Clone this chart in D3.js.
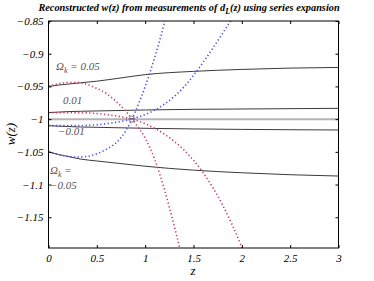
<!DOCTYPE html>
<html><head><meta charset="utf-8">
<script src="https://cdn.jsdelivr.net/npm/d3@7"></script>
<style>
body{margin:0;background:#fff;}
text{font-family:"Liberation Serif","Tinos","Times New Roman","DejaVu Serif",serif;font-style:italic;}
</style></head>
<body><svg id="c" width="374" height="281"></svg>
<script>
const xTicks=[0,0.5,1,1.5,2,2.5,3];
const xTickLabels=["0","0.5","1","1.5","2","2.5","3"];
const yTicks=[-0.85,-0.9,-0.95,-1,-1.05,-1.1,-1.15];
const yTickLabels=["\u22120.85","\u22120.9","\u22120.95","\u22121","\u22121.05","\u22121.1","\u22121.15"];

// solid "true" w(z) curves for each Omega_k
const solidZ=[0,0.1,0.2,0.33,0.5,0.75,1,1.5,2,2.5,3];
const solid005=[-0.950,-0.948,-0.9465,-0.9445,-0.942,-0.937,-0.932,-0.927,-0.924,-0.922,-0.921];
const solid001=[-0.990,-0.9893,-0.9885,-0.988,-0.9875,-0.9868,-0.986,-0.985,-0.9845,-0.984,-0.9835];
const solidm001=[-1.010,-1.0107,-1.0113,-1.012,-1.0125,-1.0133,-1.014,-1.015,-1.0157,-1.0162,-1.0166];
const solidm005=[-1.050,-1.054,-1.057,-1.061,-1.064,-1.068,-1.072,-1.078,-1.082,-1.085,-1.087];
const lambdaW=[-1,-1,-1,-1,-1,-1,-1,-1,-1,-1,-1];

// dotted reconstructions
const red005Z=[0,0.1,0.2,0.3,0.4,0.5,0.6,0.7,0.8,0.9,1.0,1.1,1.2,1.3,1.37,1.42];
const red005W=[-0.950,-0.946,-0.944,-0.944,-0.947,-0.953,-0.961,-0.973,-0.988,-1.007,-1.029,-1.062,-1.108,-1.163,-1.205,-1.24];
const red001Z=[0,0.2,0.4,0.6,0.8,0.9,1.0,1.2,1.4,1.6,1.8,2.0,2.1];
const red001W=[-0.990,-0.990,-0.9905,-0.993,-0.998,-1.0015,-1.007,-1.023,-1.047,-1.082,-1.131,-1.196,-1.235];
const bluem001Z=[0,0.2,0.4,0.6,0.8,0.9,1.0,1.2,1.4,1.6,1.8,1.9,2.0];
const bluem001W=[-1.010,-1.010,-1.0095,-1.007,-1.002,-0.998,-0.993,-0.977,-0.951,-0.913,-0.869,-0.846,-0.822];
const bluem005Z=[0,0.1,0.2,0.3,0.4,0.5,0.6,0.7,0.8,0.9,1.0,1.1,1.2,1.28];
const bluem005W=[-1.050,-1.054,-1.057,-1.058,-1.057,-1.053,-1.046,-1.036,-1.018,-0.988,-0.950,-0.905,-0.852,-0.80];

const crossZ=[0.862], crossW=[-1];

const FONT="Liberation Serif, Tinos, Times New Roman, DejaVu Serif, serif";
const svg=d3.select("#c");
const x=d3.scaleLinear().domain([0,3]).range([48.5,338.5]);
const y=d3.scaleLinear().domain([-1.197,-0.85]).range([248,21]);

svg.append("defs").append("clipPath").attr("id","clip")
  .append("rect").attr("x",48.5).attr("y",21).attr("width",290).attr("height",227);

const g=svg.append("g").attr("clip-path","url(#clip)");
const line=d3.line().x(d=>x(d[0])).y(d=>y(d[1])).curve(d3.curveMonotoneX);
const zip=(a,b)=>a.map((v,i)=>[v,b[i]]);

g.append("path").attr("d",line(zip(solidZ,lambdaW))).attr("fill","none").attr("stroke","#b4b4b4").attr("stroke-width",2);
[solid005,solid001,solidm001,solidm005].forEach(s=>{
  g.append("path").attr("d",line(zip(solidZ,s))).attr("fill","none").attr("stroke","#3a3a3a").attr("stroke-width",1);
});
const dotted=(zs,ws,col)=>g.append("path").attr("d",line(zip(zs,ws))).attr("fill","none")
  .attr("stroke",col).attr("stroke-width",1.6).attr("stroke-dasharray","1.3,2.4");
dotted(red005Z,red005W,"#c8406a");
dotted(red001Z,red001W,"#c8406a");
dotted(bluem001Z,bluem001W,"#4a55ee");
dotted(bluem005Z,bluem005W,"#4a55ee");
g.selectAll("circle.cross").data(zip(crossZ,crossW)).enter().append("circle")
  .attr("cx",d=>x(d[0])).attr("cy",d=>y(d[1])).attr("r",3).attr("fill","none").attr("stroke","#777").attr("stroke-width",0.8);

// box
svg.append("rect").attr("x",48.5).attr("y",21).attr("width",290).attr("height",227)
  .attr("fill","none").attr("stroke","#000").attr("stroke-width",1);

// axes with inward ticks
const xb=d3.axisBottom(x).tickValues(xTicks).tickFormat((d,i)=>xTickLabels[i]).tickSizeInner(-3).tickSizeOuter(0).tickPadding(6);
const xt=d3.axisTop(x).tickValues(xTicks).tickFormat("").tickSizeInner(-3).tickSizeOuter(0);
const yl=d3.axisLeft(y).tickValues(yTicks).tickFormat((d,i)=>yTickLabels[i]).tickSizeInner(-3).tickSizeOuter(0).tickPadding(5);
const yr=d3.axisRight(y).tickValues(yTicks).tickFormat("").tickSizeInner(-3).tickSizeOuter(0);
[[xb,"translate(0,248)"],[xt,"translate(0,21)"],[yl,"translate(48.5,0)"],[yr,"translate(338.5,0)"]].forEach(([a,t])=>{
  const ax=svg.append("g").attr("transform",t).call(a);
  ax.select(".domain").remove();
  ax.selectAll("line").attr("stroke","#000");
  ax.attr("font-family",null);
  ax.selectAll("text").style("font-family",FONT).style("font-style","italic").attr("font-size",11).attr("fill","#000");
});

// title
const title=svg.append("text").attr("x",189).attr("y",11).attr("text-anchor","middle")
  .attr("font-size",10.3).attr("font-weight","bold");
title.append("tspan").text("Reconstructed w(z) from measurements of d");
title.append("tspan").attr("dy",3).attr("font-size",8).text("L");
title.append("tspan").attr("dy",-3).text("(z) using series expansion");

// axis labels
svg.append("text").attr("x",193).attr("y",275).attr("text-anchor","middle").attr("font-size",13).text("z");
svg.append("text").attr("transform","translate(15,134) rotate(-90)").attr("text-anchor","middle").attr("font-size",13).text("w(z)");

// annotations
const ann=(xx,yy,parts)=>{
  const t=svg.append("text").attr("x",xx).attr("y",yy).attr("font-size",11).attr("fill","#555");
  parts.forEach(p=>{const s=t.append("tspan").text(p[0]); if(p[1]) s.attr("dy",p[1]); if(p[2]) s.attr("font-size",p[2]);});
};
ann(56,70,[["\u03A9"],["k",3,8],[" = 0.05",-3]]);
ann(63,104,[["0.01"]]);
ann(58,135,[["\u22120.01"]]);
ann(50,174,[["\u03A9"],["k",3,8],[" =",-3]]);
ann(50,189,[["\u22120.05"]]);
</script></body></html>
